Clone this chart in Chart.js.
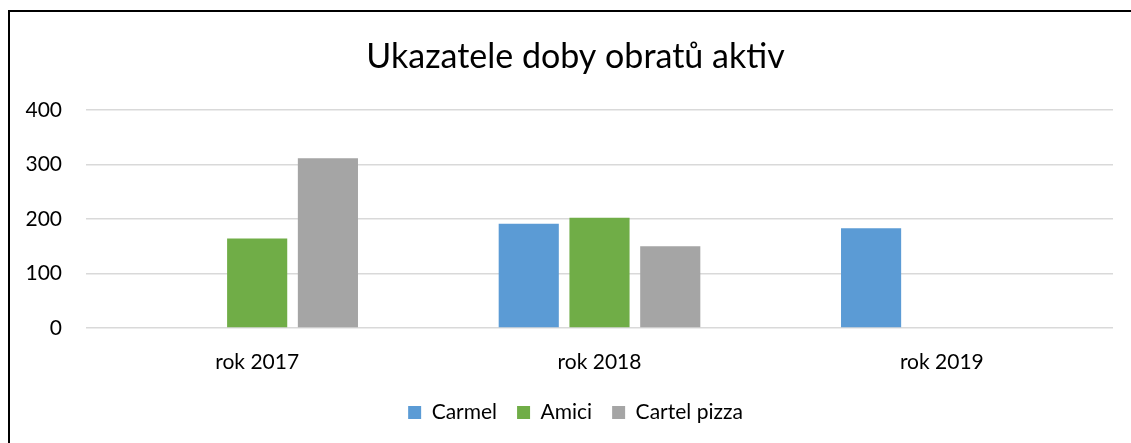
<!DOCTYPE html>
<html>
<head>
<meta charset="utf-8">
<script src="https://cdn.jsdelivr.net/npm/chart.js@4/dist/chart.umd.min.js"></script>
<style>
  html, body { margin: 0; padding: 0; background: #fff; overflow: hidden; }
  #frame { position: absolute; left: 8px; top: 10px; width: 1200px; height: 500px; border: 2px solid #000; box-sizing: border-box; }
  #wrap { position: absolute; left: 0; top: 0; width: 1131px; height: 443px; }
</style>
</head>
<body>
<div id="frame"></div>
<div id="wrap"><canvas id="c" width="1131" height="443"></canvas></div>
<script>
const titleText = "Ukazatele doby obratů aktiv";
const categories = ["rok 2017", "rok 2018", "rok 2019"];
const seriesNames = ["Carmel", "Amici", "Cartel pizza"];
const carmel = [0, 191, 183];
const amici = [164, 202, 0];
const cartelPizza = [311, 150, 0];
const yTicks = [0, 100, 200, 300, 400];

const FONT = "Lato, 'Open Sans', sans-serif";
const colors = ["#5B9BD5", "#70AD47", "#A5A5A5"];
const values = [carmel, amici, cartelPizza];

new Chart(document.getElementById('c'), {
  type: 'bar',
  data: {
    labels: categories,
    datasets: seriesNames.map((n, i) => ({
      label: n,
      data: values[i],
      backgroundColor: colors[i],
      borderWidth: 0,
      barPercentage: 0.85,
      categoryPercentage: 0.62
    }))
  },
  options: {
    responsive: false,
    animation: false,
    devicePixelRatio: 1,
    layout: { padding: { left: 24, right: 4, top: 0, bottom: 10 } },
    plugins: {
      tooltip: { enabled: false },
      title: {
        display: true,
        text: titleText,
        color: '#000',
        font: { family: FONT, size: 34, weight: 'normal' },
        padding: { top: 37, bottom: 32 }
      },
      legend: {
        position: 'bottom',
        labels: {
          color: '#000',
          font: { family: FONT, size: 21 },
          boxWidth: 13,
          boxHeight: 13,
          padding: 20
        }
      }
    },
    scales: {
      x: {
        grid: { display: false },
        border: { display: false },
        ticks: { color: '#000', font: { family: FONT, size: 21 }, padding: 14 },
        afterFit(s) { s.height = 54; }
      },
      y: {
        min: 0,
        max: 400,
        afterBuildTicks(s) { s.ticks = yTicks.map(v => ({ value: v })); },
        grid: { color: '#D9D9D9', lineWidth: 1.5, drawTicks: false },
        border: { display: false },
        ticks: { color: '#000', font: { family: FONT, size: 21 }, padding: 24 },
        afterFit(s) { s.width = 62; }
      },
      yPad: {
        position: 'right',
        display: true,
        grid: { display: false },
        border: { display: false },
        ticks: { display: false },
        afterFit(s) { s.width = 14; }
      }
    }
  }
});
</script>
</body>
</html>
